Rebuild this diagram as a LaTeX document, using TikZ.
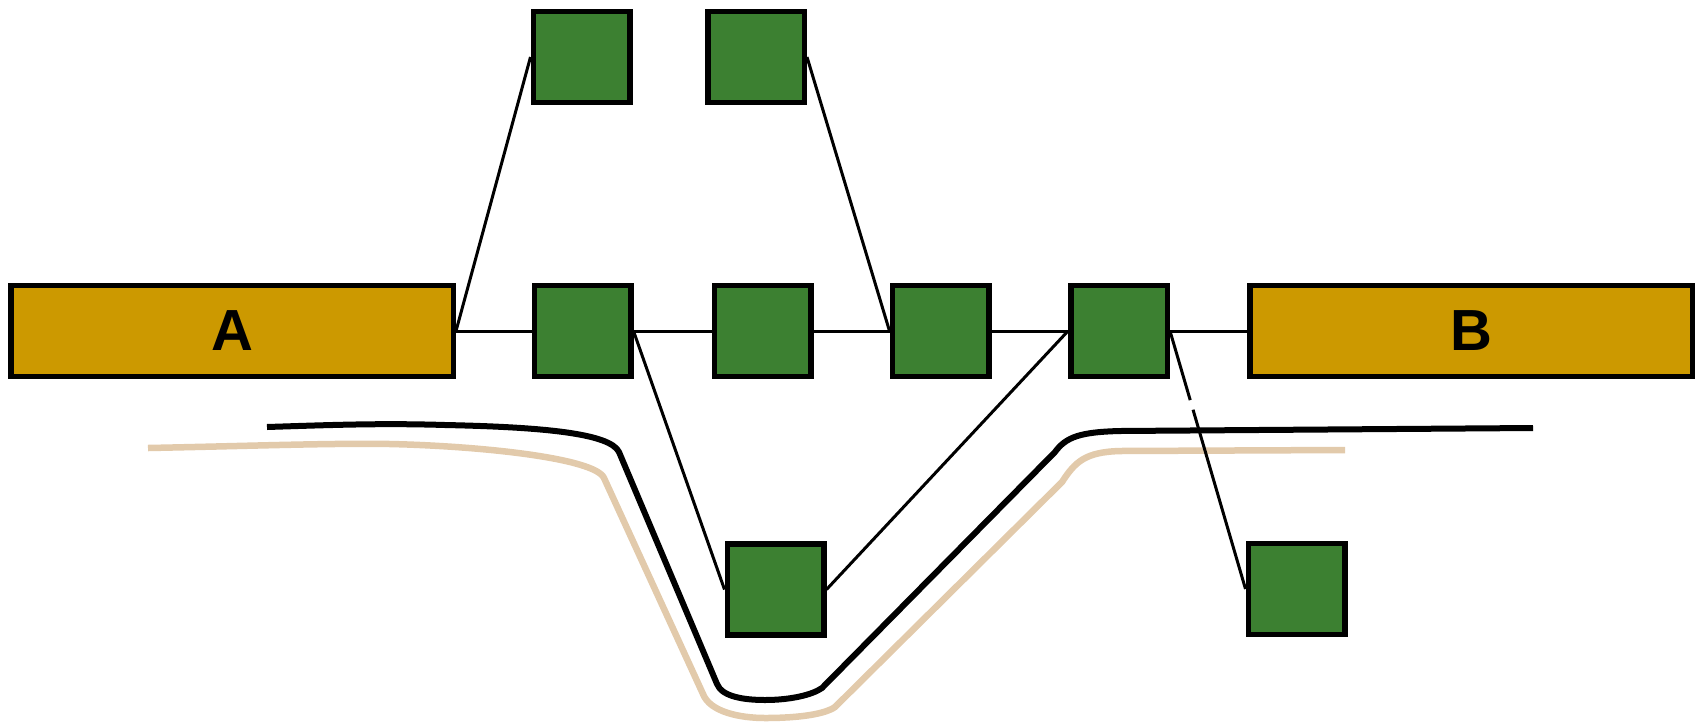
\documentclass[tikz,border=0pt]{standalone}
\usepackage{fontspec}
\setmainfont{Liberation Sans}
\definecolor{gbox}{HTML}{3C8031}
\definecolor{gold}{HTML}{CC9900}
\definecolor{tanline}{HTML}{E2CAAB}
\begin{document}
\begin{tikzpicture}[x=1pt,y=-1pt,
  gsq/.style={draw=black,line width=5.5pt,fill=gbox,minimum width=96.5pt,minimum height=91pt,inner sep=0pt},
  endbox/.style={draw=black,line width=5.5pt,fill=gold,minimum width=442.5pt,minimum height=91pt,inner sep=0pt,font=\fontsize{58}{60}\selectfont\bfseries},
  conn/.style={draw=black,line width=3pt},
  route/.style={line width=6.5pt,line join=round,line cap=butt},
]
\useasboundingbox (0,0) rectangle (1701,724);
% routes (drawn first)
\draw[route,tanline] (148,448) .. controls (250,446) and (330,443) .. (390,444)
  .. controls (480,446) and (595,458) .. (604,478) -- (703,694)
  .. controls (710,712) and (740,718) .. (765,718)
  .. controls (800,718) and (825,714) .. (835,707) -- (1062,482)
  .. controls (1075,462) and (1085,452) .. (1120,451) -- (1345,450);
\draw[route,black,line width=6pt] (267,427) .. controls (330,425) and (380,423) .. (445,425)
  .. controls (540,427) and (610,433) .. (619,452) -- (717,684)
  .. controls (722,697) and (745,700) .. (765,700)
  .. controls (790,700) and (812,695) .. (822,688) -- (1055,452)
  .. controls (1066,437) and (1080,432) .. (1120,431) -- (1533,428);
% boxes
\node[endbox] (A) at (232,331) {A};
\node[endbox] (B) at (1471,331) {B};
\node[gsq] (g1) at (582.5,331) {};
\node[gsq] (g2) at (762.5,331) {};
\node[gsq] (g3) at (940.5,331) {};
\node[gsq] (g4) at (1119,331) {};
\node[gsq] (t1) at (581.5,57) {};
\node[gsq] (t2) at (756,57) {};
\node[gsq] (l1) at (775.5,589.5) {};
\node[gsq] (l2) at (1296.5,589) {};
% connectors
\draw[conn] (A.east) -- (g1.west);
\draw[conn] (g1.east) -- (g2.west);
\draw[conn] (g2.east) -- (g3.west);
\draw[conn] (g3.east) -- (g4.west);
\draw[conn] (g4.east) -- (B.west);
\draw[conn] (A.east) -- (t1.west);
\draw[conn] (t2.east) -- (g3.west);
\draw[conn] (g1.east) -- (l1.west);
\draw[conn] (l1.east) -- (g4.west);
\draw[conn,dash pattern=on 72pt off 10pt on 400pt] (g4.east) -- (l2.west);
\end{tikzpicture}
\end{document}
